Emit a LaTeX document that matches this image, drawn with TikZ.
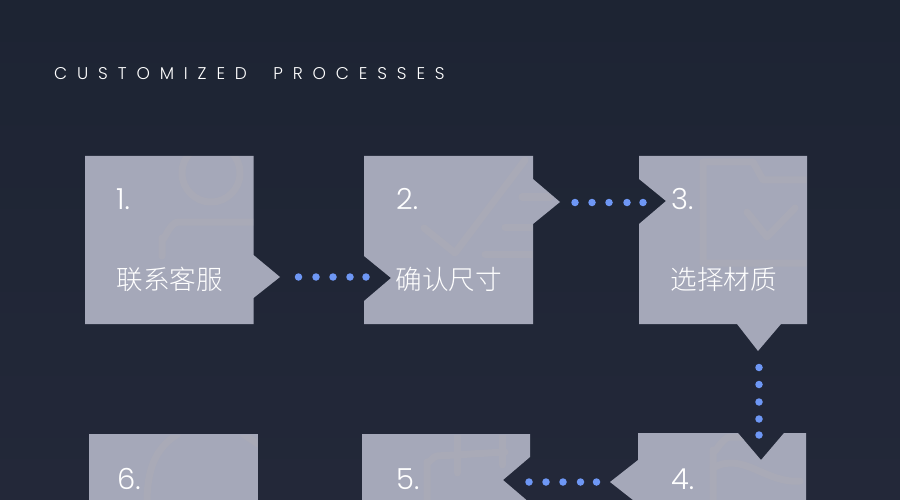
\documentclass[tikz,border=0pt]{standalone}
\usepackage{fontspec}
\setmainfont{Poppins Light}
\newfontfamily\cjk[UprightFont=* Light]{Noto Sans CJK SC}
\definecolor{bgtop}{HTML}{1D2433}
\definecolor{bgbot}{HTML}{232839}
\definecolor{boxc}{HTML}{A5A8B9}
\definecolor{ghost}{HTML}{A9AAB7}
\definecolor{dotc}{HTML}{6E97F5}
\tikzset{
  panel/.style={fill=boxc,draw=none},
  icon/.style={draw=ghost,line width=7pt,line cap=round,line join=round},
  pdot/.style={circle,fill=dotc,inner sep=0pt,minimum size=7.5pt},
  num/.style={text=white,font=\fontsize{29}{29}\selectfont,anchor=base west,inner sep=0pt},
  lab/.style={text=white,font=\cjk\fontsize{26.6}{27}\selectfont,anchor=west,inner sep=0pt}
}
\begin{document}
\begin{tikzpicture}[x=1pt,y=-1pt]
\shade[top color=bgtop,bottom color=bgbot] (0,0) rectangle (900,500);
\useasboundingbox (0,0) rectangle (900,500);
\node[text=white,font=\fontsize{17}{17}\selectfont\addfontfeatures{LetterSpace=58},anchor=west,inner sep=0pt] (title) at (54,74) {CUSTOMIZED\hspace{12pt} PROCESSES};
% panels
\path[panel] (85,156)--(253.5,156)--(253.5,255)--(280,277)--(253.5,298)--(253.5,324)--(85,324)--cycle;
\path[panel] (364,156)--(533,156)--(533,179)--(560,202)--(533,224)--(533,324)--(364,324)--(364,301)--(391,278)--(364,256)--cycle;
\path[panel] (639,156)--(807,156)--(807,324)--(781,324)--(758,351)--(737,324)--(639,324)--(639,224)--(666,201)--(639,179)--cycle;
\path[panel] (638,433)--(738,433)--(761,460)--(784,433)--(806,433)--(806,510)--(638,510)--(638,504)--(610,482)--(638,460)--cycle;
\path[panel] (362,434)--(530,434)--(530,457)--(503,480)--(530,503)--(530,510)--(362,510)--cycle;
\path[panel] (89,434)--(258,434)--(258,510)--(89,510)--cycle;
% ghost icons
\begin{scope}
\clip (86,157) rectangle (253,323);
\draw[icon] (211,173) circle (29);
\draw[icon] (162,256)--(162,238) to[out=-90,in=180] (178,222)--(256,222);
\end{scope}
\begin{scope}
\clip (365,157)--(532.5,157)--(532.5,180)--(559,202)--(532.5,223)--(532.5,323)--(365,323)--cycle;
\draw[icon] (424,228)--(455,253)--(525,160);
\draw[icon] (522,197)--(550,197);
\draw[icon] (505,227)--(532,227);
\draw[icon] (485,254)--(532,254);
\end{scope}
\begin{scope}
\clip (640,157) rectangle (806.5,323);
\draw[icon] (807,180)--(763,180)--(753,162)--(703,162)--(703,263)--(807,263);
\draw[icon] (747,212)--(767,237)--(795,208);
\end{scope}
\begin{scope}
\clip (639,434)--(738.5,434)--(761,461)--(783.5,434)--(805.5,434)--(805.5,500)--(639,500)--cycle;
\draw[icon] (713,500)--(713,450) to[out=-90,in=180] (730,437)--(745,437);
\draw[icon] (713,468) to[out=30,in=185] (800,481);
\end{scope}
\begin{scope}
\clip (363,435)--(529.5,435)--(529.5,458)--(504,480)--(529.5,502)--(363,502)--cycle;
\draw[icon] (427,500)--(427,462) to[out=-90,in=180] (437,456)--(505,452);
\draw[icon] (457,430)--(457,473);
\draw[icon] (502,430)--(502,465);
\end{scope}
\begin{scope}
\clip (90,435) rectangle (257.5,500);
\draw[icon] (147,503) .. controls (147,470) and (155,448) .. (178,434);
\draw[icon] (243,434)--(258,444);
\end{scope}
% numbers and labels
\node[num] (n1) at (116,209) {1.};
\node[num] (n2) at (396,209) {2.};
\node[num] (n3) at (671,209) {3.};
\node[num] (n4) at (671,489) {4.};
\node[num] (n5) at (396,489) {5.};
\node[num] (n6) at (117,489) {6.};
\node[lab] (l1) at (116.5,279.5) {联系客服};
\node[lab] (l2) at (395.5,279.5) {确认尺寸};
\node[lab] (l3) at (670.5,279.5) {选择材质};
% dots
\foreach \x in {298.5,316,333,350,366} \node[pdot] at (\x,277) {};
\foreach \x in {575,592,609,627,643} \node[pdot] at (\x,202.5) {};
\foreach \y in {367.5,384.5,402,419,435} \node[pdot] at (759,\y) {};
\foreach \x in {529,546,563,580.5,596.5} \node[pdot] at (\x,482) {};
\end{tikzpicture}
\end{document}
